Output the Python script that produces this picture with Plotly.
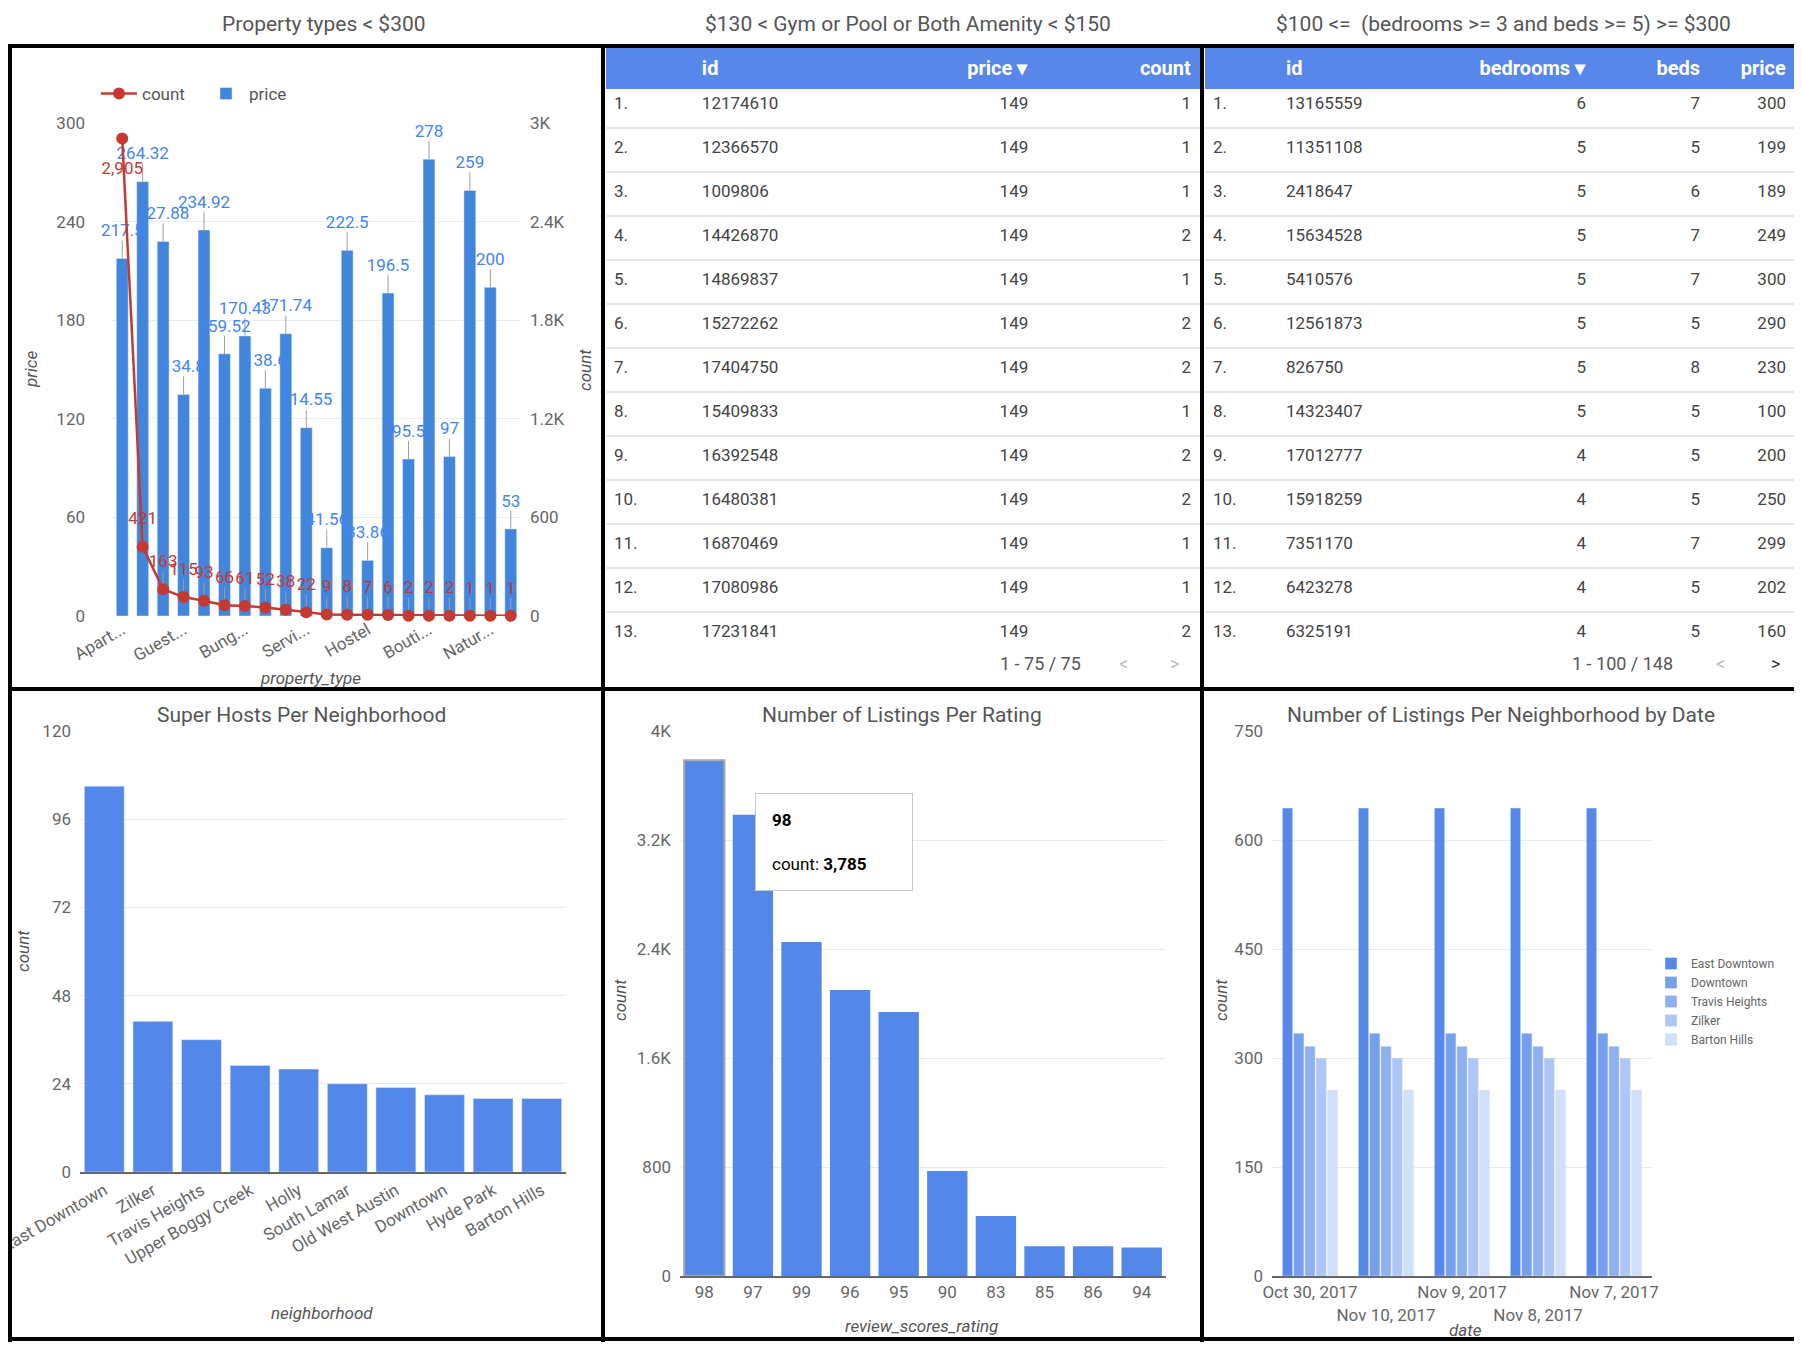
import plotly.graph_objects as go

# the page body adds 8px around the figure, so the figure is drawn 16px smaller
OFF = 8
W, H = 1802 - 2 * OFF, 1350 - 2 * OFF

# property types under $300
prop_types = ["Apartment", "House", "Condominium", "Guesthouse", "Townhouse", "Loft", "Bungalow",
              "Other", "Bed & Breakfast", "Serviced apartment", "Camper/RV", "Tiny house", "Hostel",
              "Villa", "Tent", "Boutique hotel", "Cabin", "Earth house", "Nature lodge", "Treehouse"]
prop_tick_vals = ["Apartment", "Guesthouse", "Bungalow", "Serviced apartment", "Hostel", "Boutique hotel", "Nature lodge"]
prop_tick_text = ["Apart...", "Guest...", "Bung...", "Servi...", "Hostel", "Bouti...", "Natur..."]
prop_price = [217.5, 264.32, 227.88, 134.8, 234.92, 159.52, 170.43, 138.6, 171.74, 114.55,
              41.56, 222.5, 33.86, 196.5, 95.5, 278, 97, 259, 200, 53]
prop_count = [2905, 421, 163, 115, 93, 66, 61, 52, 38, 22, 9, 8, 7, 6, 2, 2, 2, 1, 1, 1]

# gym / pool table
gym_ids = [12174610, 12366570, 1009806, 14426870, 14869837, 15272262, 17404750,
           15409833, 16392548, 16480381, 16870469, 17080986, 17231841]
gym_price = [149, 149, 149, 149, 149, 149, 149, 149, 149, 149, 149, 149, 149]
gym_count = [1, 1, 1, 2, 1, 2, 2, 1, 2, 2, 1, 1, 2]

# bedrooms table
bed_ids = [13165559, 11351108, 2418647, 15634528, 5410576, 12561873, 826750,
           14323407, 17012777, 15918259, 7351170, 6423278, 6325191]
bed_bedrooms = [6, 5, 5, 5, 5, 5, 5, 5, 4, 4, 4, 4, 4]
bed_beds = [7, 5, 6, 7, 7, 5, 8, 5, 5, 5, 7, 5, 5]
bed_price = [300, 199, 189, 249, 300, 290, 230, 100, 200, 250, 299, 202, 160]

# super hosts
hoods = ["East Downtown", "Zilker", "Travis Heights", "Upper Boggy Creek", "Holly",
         "South Lamar", "Old West Austin", "Downtown", "Hyde Park", "Barton Hills"]
super_hosts = [105, 41, 36, 29, 28, 24, 23, 21, 20, 20]

# listings per rating
ratings = ["98", "97", "99", "96", "95", "90", "83", "85", "86", "94"]
rating_counts = [3785, 3385, 2452, 2099, 1937, 770, 441, 218, 218, 210]

# listings per neighborhood by date
dates = ["Oct 30, 2017", "Nov 10, 2017", "Nov 9, 2017", "Nov 8, 2017", "Nov 7, 2017"]
east_downtown = [644, 644, 644, 644, 644]
downtown = [334, 334, 334, 334, 334]
travis_heights = [316, 316, 316, 316, 316]
zilker = [300, 300, 300, 300, 300]
barton_hills = [256, 256, 256, 256, 256]


def px(x):
    return min(max((x - OFF) / W, 0), 1)


def py(y):
    return min(max(1 - (y - OFF) / H, 0), 1)


FONT = "Roboto"
GREY = "#666666"
GRID = "#ebebeb"
BLUE = "#4285dc"
BLUE2 = "#5487ea"
RED = "#c43a31"

fig = go.Figure()

# ---- top left: combo chart ----
fig.add_trace(go.Bar(
    x=prop_types, y=prop_price, name="price", marker_color=BLUE, width=0.58,
    error_y=dict(type="data", symmetric=False, array=[11] * len(prop_price),
                 arrayminus=[0] * len(prop_price), color="#9e9e9e", thickness=1, width=0),
    legend="legend", legendrank=2, xaxis="x", yaxis="y",
))
fig.add_trace(go.Scatter(
    x=prop_types, y=[p + 11 for p in prop_price], mode="text",
    text=[f"{p:g}" for p in prop_price], textposition="top center",
    textfont=dict(color="#4285f4", size=17), showlegend=False, hoverinfo="skip",
    cliponaxis=False, xaxis="x", yaxis="y",
))
lead = [0] + [110] * (len(prop_count) - 1)
fig.add_trace(go.Scatter(
    x=prop_types, y=prop_count, name="count", mode="lines+markers",
    line=dict(color=RED, width=2.5), marker=dict(color=RED, size=12),
    error_y=dict(type="data", symmetric=False, array=lead, arrayminus=[0] * len(prop_count),
                 color="#9e9e9e", thickness=1, width=0),
    legend="legend", legendrank=1, xaxis="x", yaxis="y2", cliponaxis=False,
))
label_y = [prop_count[0] - 140] + [c + l for c, l in zip(prop_count[1:], lead[1:])]
label_pos = ["bottom center"] + ["top center"] * (len(prop_count) - 1)
fig.add_trace(go.Scatter(
    x=prop_types, y=label_y, mode="text", text=[f"{c:,}" for c in prop_count],
    textposition=label_pos, textfont=dict(color=RED, size=17), showlegend=False,
    hoverinfo="skip", cliponaxis=False, xaxis="x", yaxis="y2",
))

# ---- tables ----
header_blue = "#5687e9"
TABLE_TOP, HEAD_H, ROW_H = 48, 36, 44
fig.add_trace(go.Table(
    domain=dict(x=[px(606), px(1200)], y=[py(662), py(TABLE_TOP)]),
    columnwidth=[88, 170, 173, 163],
    header=dict(values=["", "<b>id</b>", "<b>price \u25be</b>", "<b>count</b>"],
                align=["left", "left", "right", "right"], fill_color=header_blue,
                line_color=header_blue, font=dict(color="white", size=20, family=FONT), height=HEAD_H),
    cells=dict(values=[[f"{i}." for i in range(1, len(gym_ids) + 1)], gym_ids, gym_price, gym_count],
               align=["left", "left", "right", "right"], fill_color="white",
               line=dict(color="white", width=1),
               font=dict(color="#444444", size=17, family=FONT), height=ROW_H),
))
fig.add_trace(go.Table(
    domain=dict(x=[px(1205), px(1802)], y=[py(662), py(TABLE_TOP)]),
    columnwidth=[73, 170, 146, 114, 86],
    header=dict(values=["", "<b>id</b>", "<b>bedrooms \u25be</b>", "<b>beds</b>", "<b>price</b>"],
                align=["left", "left", "right", "right", "right"], fill_color=header_blue,
                line_color=header_blue, font=dict(color="white", size=20, family=FONT), height=HEAD_H),
    cells=dict(values=[[f"{i}." for i in range(1, len(bed_ids) + 1)], bed_ids, bed_bedrooms, bed_beds, bed_price],
               align=["left", "left", "right", "right", "right"], fill_color="white",
               line=dict(color="white", width=1),
               font=dict(color="#444444", size=17, family=FONT), height=ROW_H),
))

# ---- bottom left: super hosts ----
fig.add_trace(go.Bar(x=hoods, y=super_hosts, marker_color=BLUE2, showlegend=False, width=0.82,
                     xaxis="x3", yaxis="y3"))

# ---- bottom middle: listings per rating ----
fig.add_trace(go.Bar(x=ratings, y=rating_counts, marker_color=BLUE2, showlegend=False, width=0.83,
                     marker_line=dict(color=["#a8a8a8"] + ["rgba(0,0,0,0)"] * (len(ratings) - 1), width=2),
                     xaxis="x4", yaxis="y4"))

# ---- bottom right: by date ----
date_series = [("East Downtown", east_downtown, "#5588ea"), ("Downtown", downtown, "#76a0ee"),
               ("Travis Heights", travis_heights, "#8eb0f1"), ("Zilker", zilker, "#aec6f5"),
               ("Barton Hills", barton_hills, "#d0dffa")]
for name, vals, col in date_series:
    fig.add_trace(go.Bar(x=dates, y=vals, name=name, marker_color=col, legend="legend2",
                         xaxis="x5", yaxis="y5"))

tickfont = dict(color=GREY, size=17, family=FONT)
common_y = dict(gridcolor=GRID, zeroline=False, tickfont=tickfont, ticks="", showline=False,
                automargin=False, ticklabelstandoff=8)
common_x = dict(tickfont=tickfont, showgrid=False, ticks="", automargin=False)

fig.update_layout(
    width=W, height=H, margin=dict(l=0, r=0, t=0, b=0, autoexpand=False),
    paper_bgcolor="white", plot_bgcolor="white",
    font=dict(family=FONT, color=GREY),
    barmode="group", bargap=0.26, bargroupgap=0.08,
    xaxis=dict(domain=[px(112), px(521)], anchor="y", tickvals=prop_tick_vals, ticktext=prop_tick_text,
               range=[-0.5, len(prop_types) - 0.5], tickangle=-30, **common_x),
    yaxis=dict(domain=[py(616), py(123)], range=[0, 300], dtick=60, anchor="x",
               **{**common_y, "ticklabelstandoff": 26}),
    yaxis2=dict(overlaying="y", side="right", anchor="x", range=[0, 3000],
                tickvals=[0, 600, 1200, 1800, 2400, 3000], ticktext=["0", "600", "1.2K", "1.8K", "2.4K", "3K"],
                showgrid=False, zeroline=False, tickfont=tickfont, automargin=False, ticklabelstandoff=8),
    xaxis3=dict(domain=[px(80), px(566)], anchor="y3", tickangle=-30, showline=True, linecolor=GREY,
                linewidth=2, **common_x),
    yaxis3=dict(domain=[py(1172), py(731)], range=[0, 120], dtick=24, anchor="x3", **common_y),
    xaxis4=dict(domain=[px(680), px(1166)], anchor="y4", showline=True, linecolor=GREY, linewidth=2,
                tickangle=0, **common_x),
    yaxis4=dict(domain=[py(1276), py(731)], range=[0, 4000], anchor="x4",
                tickvals=[0, 800, 1600, 2400, 3200, 4000], ticktext=["0", "800", "1.6K", "2.4K", "3.2K", "4K"],
                **common_y),
    xaxis5=dict(domain=[px(1272), px(1652)], anchor="y5", showline=True, linecolor=GREY, linewidth=2,
                tickvals=dates, ticktext=[d if i % 2 == 0 else "<br>" + d for i, d in enumerate(dates)],
                tickangle=0, **common_x),
    yaxis5=dict(domain=[py(1276), py(731)], range=[0, 750], dtick=150, anchor="x5", **common_y),
    legend=dict(x=px(96), y=py(76), xanchor="left", yanchor="top", orientation="h",
                itemwidth=36, entrywidth=56, entrywidthmode="pixels",
                font=dict(size=17, color="#555555"), bgcolor="rgba(0,0,0,0)"),
    legend2=dict(x=px(1651), y=py(949), xanchor="left", yanchor="top", orientation="v",
                 font=dict(size=12, color="#666666"), bgcolor="rgba(0,0,0,0)", tracegroupgap=0),
)

# titles and axis titles
notes = [
    ("Property types < $300", 324, 24, 21, 0, "normal"),
    ("$130 < Gym or Pool or Both Amenity < $150", 908, 24, 21, 0, "normal"),
    ("$100 <=  (bedrooms >= 3 and beds >= 5) >= $300", 1503, 24, 21, 0, "normal"),
    ("Super Hosts Per Neighborhood", 301, 715, 21, 0, "normal"),
    ("Number of Listings Per Rating", 902, 715, 21, 0, "normal"),
    ("Number of Listings Per Neighborhood by Date", 1501, 715, 21, 0, "normal"),
    ("price", 31, 370, 17, -90, "italic"),
    ("count", 585, 370, 17, -90, "italic"),
    ("property_type", 310, 678, 17, 0, "italic"),
    ("count", 23, 951, 17, -90, "italic"),
    ("neighborhood", 322, 1313, 17, 0, "italic"),
    ("count", 620, 1000, 17, -90, "italic"),
    ("review_scores_rating", 921, 1326, 17, 0, "italic"),
    ("count", 1221, 1000, 17, -90, "italic"),
    ("date", 1465, 1330, 17, 0, "italic"),
]
for text, x, y, size, angle, style in notes:
    fig.add_annotation(text=text, x=px(x), y=py(y), xref="paper", yref="paper", showarrow=False,
                       xanchor="center", yanchor="middle", textangle=angle,
                       font=dict(size=size, color="#555555", style=style, family=FONT))

# table footers
for text, x, col in [("1 - 75 / 75", 1040, "#555555"), ("<", 1123, "#bbbbbb"), (">", 1174, "#bbbbbb"),
                     ("1 - 100 / 148", 1622, "#555555"), ("<", 1720, "#bbbbbb"), (">", 1775, "#333333")]:
    fig.add_annotation(text=text, x=px(x), y=py(663), xref="paper", yref="paper", showarrow=False,
                       xanchor="center", yanchor="middle", font=dict(size=18, color=col, family=FONT))

# row separators of the two tables
for x0, x1, n in [(606, 1200, len(gym_ids)), (1205, 1802, len(bed_ids))]:
    for k in range(1, n):
        yk = TABLE_TOP + HEAD_H + k * ROW_H
        fig.add_shape(type="line", x0=px(x0), x1=px(x1), y0=py(yk), y1=py(yk), xref="paper", yref="paper",
                      line=dict(color="#e6e6e6", width=2), layer="above")

# hover tooltip on rating chart
fig.add_annotation(text=f"<b>{ratings[0]}</b><br><br>count: <b>{rating_counts[0]:,}</b>",
                   x=px(755), y=py(793), xref="paper", yref="paper", xanchor="left", yanchor="top",
                   showarrow=False, align="left", width=124, bgcolor="white", bordercolor="#c8c8c8",
                   borderwidth=1, borderpad=16, font=dict(size=17, color="black", family=FONT))

# panel frames
frame = dict(color="black", width=4)
for x0, y0, x1, y1 in [(0, 46, 1802, 46), (0, 689, 1802, 689), (0, 1339, 1802, 1339),
                       (10, 46, 10, 1350), (603, 46, 603, 1350), (1202, 46, 1202, 1350)]:
    fig.add_shape(type="line", x0=px(x0), y0=py(y0), x1=px(x1), y1=py(y1), xref="paper", yref="paper",
                  line=frame, layer="above")

fig.write_html("out.html")
